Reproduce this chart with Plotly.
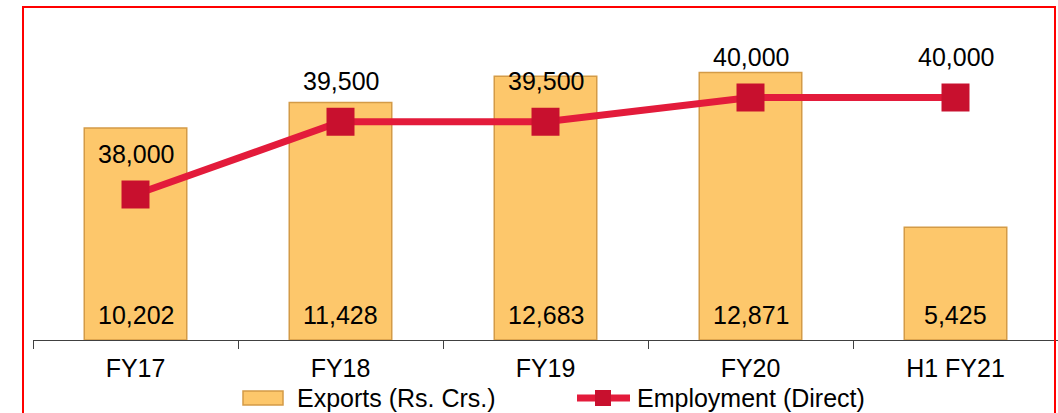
import plotly.graph_objects as go

# data
years = ["FY17", "FY18", "FY19", "FY20", "H1 FY21"]
exports = [10202, 11428, 12683, 12871, 5425]          # Rs. Crs.
employment = [38000, 39500, 39500, 40000, 40000]      # direct jobs

BAR = "#FDC76B"
BAR_EDGE = "#D49B47"
LINE = "#E31B3B"
MARK = "#C8102E"
FONT = "Liberation Sans, Arial, sans-serif"

# plot area in pixels, used to place the hand-drawn legend and frame
L, T, W, H = 33, 49, 1025, 291


def px(x):
    return (x - L) / W


def py(y):
    return (T + H - y) / H


fig = go.Figure()

fig.add_trace(go.Bar(
    x=years, y=exports, name="Exports (Rs. Crs.)",
    marker=dict(color=BAR, line=dict(color=BAR_EDGE, width=1.5)),
    width=0.5, showlegend=False,
))

fig.add_trace(go.Scatter(
    x=years, y=employment, name="Employment (Direct)", yaxis="y2",
    mode="lines+markers",
    line=dict(color=LINE, width=7),
    marker=dict(symbol="square", size=28, color=MARK),
    cliponaxis=False, showlegend=False,
))

# value labels: exports at bar foot, employment above the squares
for yr, v in zip(years, exports):
    fig.add_annotation(x=yr, y=0, yshift=25, text=f"{v:,}", showarrow=False,
                       font=dict(size=25, color="black", family=FONT))
for yr, v in zip(years, employment):
    fig.add_annotation(x=yr, y=v, yref="y2", yshift=41, text=f"{v:,}", showarrow=False,
                       font=dict(size=25, color="black", family=FONT))

# legend, drawn by hand so the bar key is a wide block like the original
fig.add_shape(type="rect", xref="paper", yref="paper",
              x0=px(243), x1=px(283), y0=py(405), y1=py(391),
              fillcolor=BAR, line=dict(color=BAR_EDGE, width=1.5))
fig.add_annotation(xref="paper", yref="paper", x=px(295), y=py(398), xanchor="left",
                   yanchor="middle", text="Exports (Rs. Crs.)", showarrow=False,
                   font=dict(size=25, color="black", family=FONT))
fig.add_shape(type="line", xref="paper", yref="paper",
              x0=px(577), x1=px(630), y0=py(398), y1=py(398),
              line=dict(color=LINE, width=7))
fig.add_shape(type="rect", xref="paper", yref="paper",
              x0=px(595), x1=px(611), y0=py(406), y1=py(390),
              fillcolor=MARK, line=dict(color=MARK, width=0))
fig.add_annotation(xref="paper", yref="paper", x=px(635), y=py(398), xanchor="left",
                   yanchor="middle", text="Employment (Direct)", showarrow=False,
                   font=dict(size=25, color="black", family=FONT))

# red frame round the chart
fig.add_shape(type="rect", xref="paper", yref="paper",
              x0=px(23), x1=px(1055), y0=py(430), y1=py(7),
              line=dict(color="#FF0000", width=2), layer="above")

fig.update_layout(
    width=1058, height=413,
    margin=dict(l=L, r=1058 - L - W, t=T, b=413 - T - H, autoexpand=False),
    paper_bgcolor="white", plot_bgcolor="white",
    font=dict(family=FONT, size=25, color="black"),
    showlegend=False,
    xaxis=dict(
        showline=True, linecolor="#404040", linewidth=1,
        ticks="outside", tickson="boundaries", ticklen=8, tickcolor="#404040",
        ticklabelstandoff=6, tickfont=dict(size=25),
        showgrid=False, automargin=False,
    ),
    yaxis=dict(range=[0, 14000], visible=False, showgrid=False),
    yaxis2=dict(range=[35000, 41000], overlaying="y", visible=False, showgrid=False),
)

# drop the browser's default body margin so the figure sits at the window corner
fig.write_html("out.html", config={"displayModeBar": False},
               post_script="document.body.style.margin='0';"
                           "document.body.style.overflow='hidden';")
